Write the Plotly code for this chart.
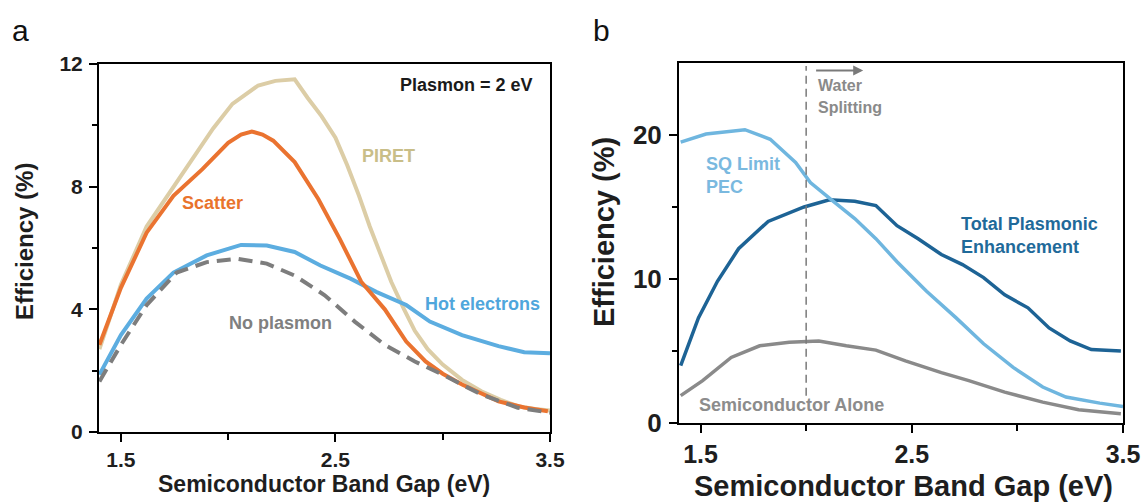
import plotly.graph_objects as go

# ---------------- Panel a data ----------------
piret_x = [1.40, 1.50, 1.62, 1.745, 1.85, 1.93, 2.02, 2.14, 2.22, 2.31, 2.37, 2.435, 2.50, 2.555,
           2.61, 2.66, 2.71, 2.76, 2.82, 2.87, 2.93, 3.00, 3.09, 3.18, 3.27, 3.35, 3.43, 3.50]
piret_y = [2.7, 4.8, 6.7, 8.0, 9.1, 9.9, 10.7, 11.3, 11.45, 11.5, 10.9, 10.3, 9.6, 8.7,
           7.7, 6.7, 5.8, 4.9, 4.0, 3.3, 2.7, 2.2, 1.7, 1.33, 1.05, 0.84, 0.75, 0.70]

scatter_x = [1.40, 1.50, 1.62, 1.745, 1.88, 2.00, 2.06, 2.11, 2.16, 2.21, 2.31, 2.42, 2.52,
             2.62, 2.73, 2.83, 2.92, 3.00, 3.09, 3.18, 3.26, 3.38, 3.49]
scatter_y = [2.84, 4.7, 6.5, 7.7, 8.57, 9.43, 9.7, 9.8, 9.7, 9.5, 8.8, 7.6, 6.3,
             4.9, 4.0, 2.95, 2.3, 1.9, 1.55, 1.25, 1.0, 0.8, 0.68]

hot_x = [1.40, 1.50, 1.62, 1.745, 1.90, 2.06, 2.18, 2.31, 2.43, 2.57, 2.69, 2.83, 2.94,
         3.09, 3.26, 3.38, 3.50]
hot_y = [1.87, 3.16, 4.35, 5.2, 5.76, 6.1, 6.08, 5.87, 5.43, 5.0, 4.57, 4.14, 3.6,
         3.16, 2.8, 2.6, 2.57]

noplas_x = [1.40, 1.50, 1.62, 1.76, 1.90, 2.04, 2.18, 2.31, 2.45, 2.59, 2.73, 2.87, 3.00,
            3.18, 3.35, 3.50]
noplas_y = [1.65, 2.84, 4.14, 5.2, 5.54, 5.65, 5.49, 5.1, 4.46, 3.6, 2.84, 2.3, 1.87,
            1.22, 0.79, 0.63]

# ---------------- Panel b data ----------------
sq_x = [1.406, 1.526, 1.71, 1.83, 1.95, 2.02, 2.12, 2.23, 2.33, 2.43, 2.57, 2.71, 2.84,
        2.98, 3.12, 3.23, 3.39, 3.50]
sq_y = [19.5, 20.07, 20.37, 19.7, 18.1, 16.7, 15.5, 14.2, 12.8, 11.2, 9.15, 7.3, 5.5,
        3.86, 2.5, 1.8, 1.38, 1.15]

total_x = [1.406, 1.49, 1.58, 1.68, 1.82, 1.99, 2.11, 2.23, 2.33, 2.43, 2.53, 2.64, 2.74,
           2.84, 2.94, 3.05, 3.15, 3.25, 3.35, 3.49]
total_y = [3.98, 7.3, 9.84, 12.1, 14.0, 15.0, 15.5, 15.4, 15.1, 13.7, 12.8, 11.7, 11.0,
           10.1, 8.9, 8.0, 6.6, 5.7, 5.1, 5.0]

semi_x = [1.406, 1.51, 1.645, 1.78, 1.92, 2.06, 2.19, 2.33, 2.47, 2.64, 2.77, 2.94, 3.12,
          3.29, 3.49]
semi_y = [1.9, 2.94, 4.55, 5.36, 5.6, 5.7, 5.36, 5.06, 4.32, 3.5, 2.94, 2.14, 1.45,
          0.92, 0.64]

x_tick_vals = [1.5, 2.5, 3.5]
x_tick_text = ["1.5", "2.5", "3.5"]
ya_tick_vals = [0, 4, 8, 12]
yb_tick_vals = [0, 10, 20]

FONT = "Liberation Sans, Arial, Helvetica, sans-serif"
INK = "#1e1e1e"

C_PIRET = "#dccda6"
C_SCAT = "#ea7330"
C_HOT = "#5cade0"
C_NOPL = "#7d7d7d"
C_SQ = "#6fb6df"
C_TOT = "#1d6395"
C_SEMI = "#8a8a8a"

fig = go.Figure()

fig.add_trace(go.Scatter(x=piret_x, y=piret_y, mode="lines", line=dict(color=C_PIRET, width=4),
                         xaxis="x", yaxis="y", showlegend=False))
fig.add_trace(go.Scatter(x=hot_x, y=hot_y, mode="lines", line=dict(color=C_HOT, width=4),
                         xaxis="x", yaxis="y", showlegend=False))
fig.add_trace(go.Scatter(x=scatter_x, y=scatter_y, mode="lines", line=dict(color=C_SCAT, width=4),
                         xaxis="x", yaxis="y", showlegend=False))
fig.add_trace(go.Scatter(x=noplas_x, y=noplas_y, mode="lines",
                         line=dict(color=C_NOPL, width=4, dash="14px,8px"),
                         xaxis="x", yaxis="y", showlegend=False))

fig.add_trace(go.Scatter(x=semi_x, y=semi_y, mode="lines", line=dict(color=C_SEMI, width=3.5),
                         xaxis="x2", yaxis="y2", showlegend=False))
fig.add_trace(go.Scatter(x=total_x, y=total_y, mode="lines", line=dict(color=C_TOT, width=3.5),
                         xaxis="x2", yaxis="y2", showlegend=False))
fig.add_trace(go.Scatter(x=sq_x, y=sq_y, mode="lines", line=dict(color=C_SQ, width=3.5),
                         xaxis="x2", yaxis="y2", showlegend=False))


def xaxis_cfg(domain, anchor, size, standoff):
    return dict(domain=domain, anchor=anchor, range=[1.398, 3.5],
                showline=True, linecolor="black", linewidth=2, mirror=True,
                showgrid=False, zeroline=False,
                ticks="outside", ticklen=8, tickwidth=2, tickcolor="black",
                tickvals=x_tick_vals, ticktext=x_tick_text,
                tickfont=dict(family=FONT, size=size, color=INK, weight="bold"),
                ticklabelstandoff=standoff,
                minor=dict(tickvals=[2.0, 3.0], ticks="outside", ticklen=6, tickwidth=2,
                           tickcolor="black"),
                automargin=False)


def yaxis_cfg(domain, anchor, rng, vals, minor_vals, size):
    return dict(domain=domain, anchor=anchor, range=rng,
                showline=True, linecolor="black", linewidth=2, mirror=True,
                showgrid=False, zeroline=False,
                ticks="outside", ticklen=8, tickwidth=2, tickcolor="black",
                tickvals=vals,
                tickfont=dict(family=FONT, size=size, color=INK, weight="bold"),
                ticklabelstandoff=2,
                minor=dict(tickvals=minor_vals, ticks="outside", ticklen=5, tickwidth=2,
                           tickcolor="black"),
                automargin=False)


xa_dom = [99 / 1145, 550 / 1145]
ya_dom = [70 / 502, 438 / 502]
xb_dom = [679 / 1145, 1123 / 1145]
yb_dom = [79 / 502, 439 / 502]

fig.update_layout(
    width=1145, height=502,
    margin=dict(l=0, r=0, t=0, b=0),
    paper_bgcolor="white", plot_bgcolor="white",
    font=dict(family=FONT, color=INK),
    xaxis=xaxis_cfg(xa_dom, "y", 21, 0),
    yaxis=yaxis_cfg(ya_dom, "x", [0, 12], ya_tick_vals, [2, 6, 10], 21),
    xaxis2=xaxis_cfg(xb_dom, "y2", 25, 0),
    yaxis2=yaxis_cfg(yb_dom, "x2", [0, 25], yb_tick_vals, [5, 15], 26),
)

ann = []


def lab(text, x, y, color, size, xref="x", yref="y", xanchor="center", bold=True):
    ann.append(dict(text=text, x=x, y=y, xref=xref, yref=yref, showarrow=False,
                    xanchor=xanchor, yanchor="middle",
                    font=dict(family=FONT, size=size, color=color,
                              weight="bold" if bold else "normal")))


# panel a labels
lab("Plasmon = 2 eV", 3.43, 11.32, "#1a1a1a", 18, xanchor="right")
lab("PIRET", 2.746, 9.0, "#c9be88", 18)
lab("Scatter", 1.926, 7.46, "#e9742c", 18)
lab("Hot electrons", 3.186, 4.19, "#4fa6dc", 18)
lab("No plasmon", 2.245, 3.54, "#808080", 18)

# panel b labels
lab("Water", 2.047, 23.45, "#8a8a8a", 16, "x2", "y2", "left")
lab("Splitting", 2.047, 21.9, "#8a8a8a", 16, "x2", "y2", "left")
lab("SQ Limit", 1.517, 18.0, "#7ab9df", 18, "x2", "y2", "left")
lab("PEC", 1.517, 16.4, "#7ab9df", 18, "x2", "y2", "left")
lab("Total Plasmonic", 2.725, 13.8, "#1f6a9a", 18, "x2", "y2", "left")
lab("Enhancement", 2.725, 12.25, "#1f6a9a", 18, "x2", "y2", "left")
lab("Semiconductor Alone", 1.483, 1.22, "#8c8c8c", 18, "x2", "y2", "left")

# axis titles (paper coords)
lab("Efficiency (%)", 24 / 1145, 1 - 242 / 502, INK, 24, "paper", "paper")
ann[-1]["textangle"] = -90
lab("Semiconductor Band Gap (eV)", 324 / 1145, 1 - 484 / 502, INK, 23, "paper", "paper")
lab("Efficiency (%)", 604 / 1145, 1 - 232 / 502, INK, 29, "paper", "paper")
ann[-1]["textangle"] = -90
lab("Semiconductor Band Gap (eV)", 903 / 1145, 1 - 486 / 502, INK, 29, "paper", "paper")

# panel letters
lab("a", 21 / 1145, 1 - 31 / 502, "#111111", 30, "paper", "paper", bold=False)
lab("b", 601 / 1145, 1 - 31 / 502, "#111111", 30, "paper", "paper", bold=False)

# water-splitting arrow
ann.append(dict(x=2.27, y=24.48, ax=2.04, ay=24.48, xref="x2", yref="y2",
                axref="x2", ayref="y2", showarrow=True, arrowhead=2, arrowsize=1,
                arrowwidth=2, arrowcolor="#7a7a7a", text=""))

fig.update_layout(annotations=ann)

# vertical dashed line at 2.0 eV
fig.add_shape(type="line", x0=2.0, x1=2.0, y0=1.9, y1=24.8, xref="x2", yref="y2",
              line=dict(color="#7a7a7a", width=1.5, dash="8px,5px"))

fig.write_html("out.html",
               config={"displayModeBar": False},
               post_script="document.body.style.margin='0';document.body.style.overflow='hidden';")
